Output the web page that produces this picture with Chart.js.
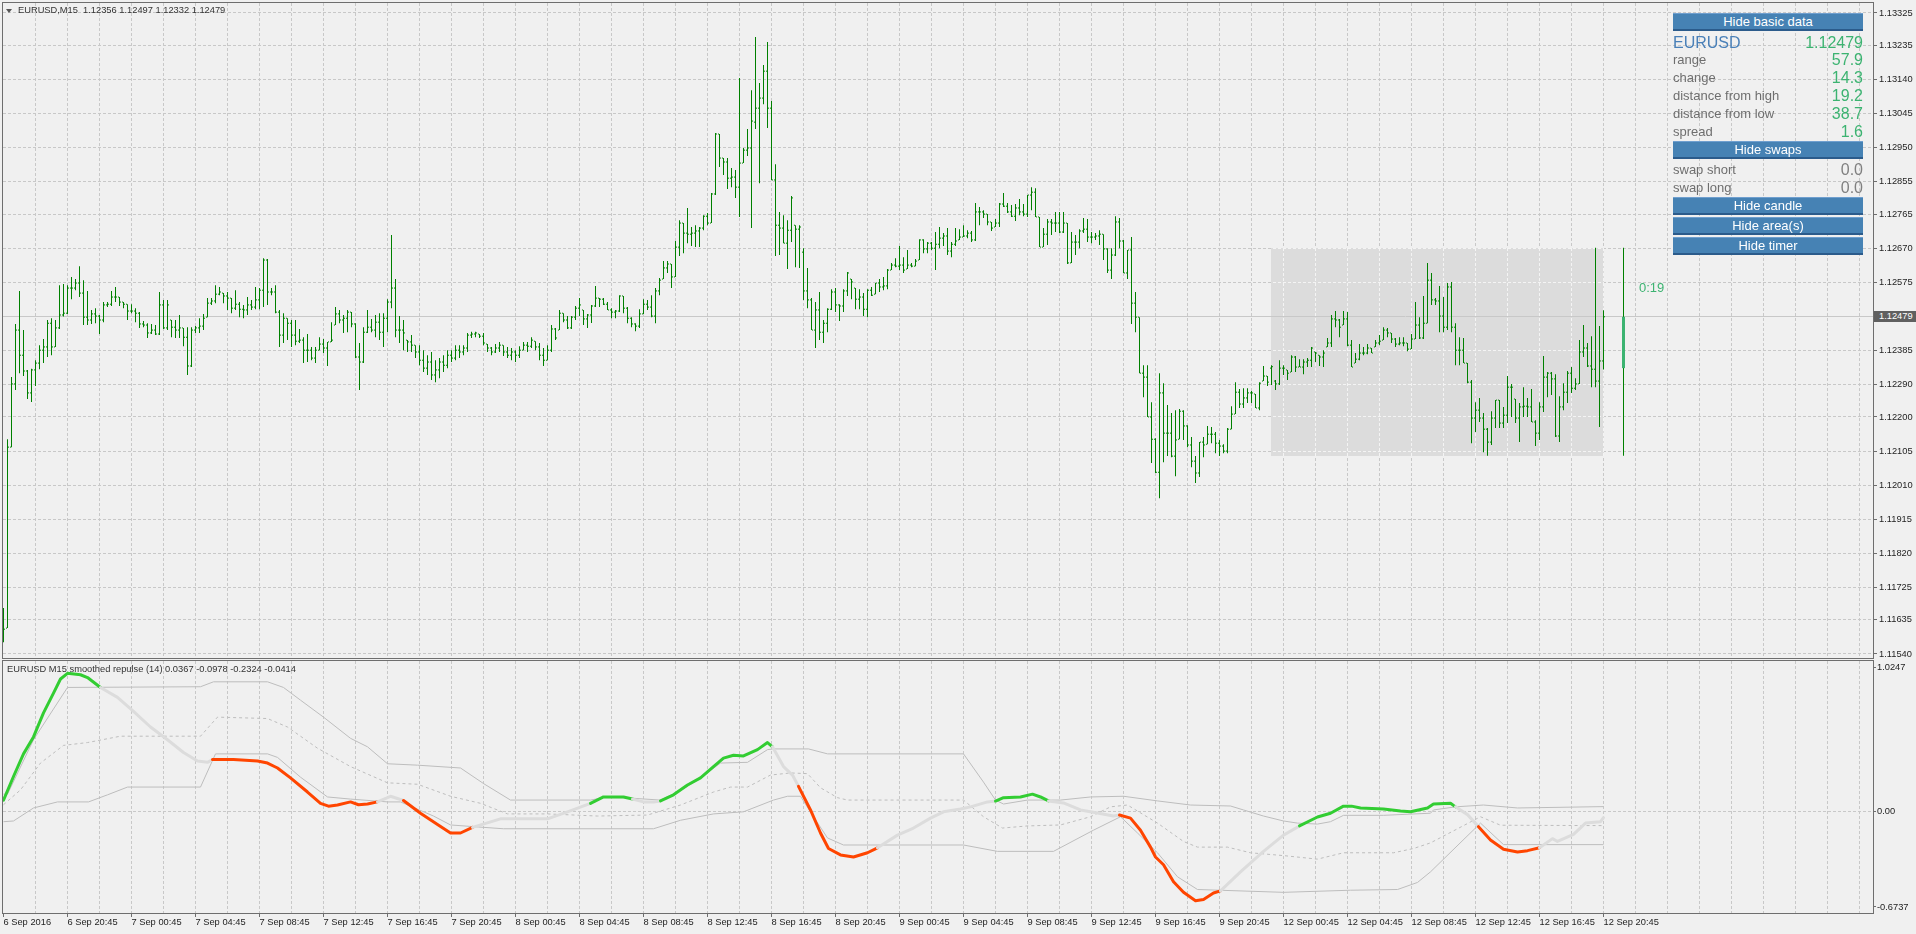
<!DOCTYPE html>
<html>
<head>
<meta charset="utf-8">
<title>EURUSD,M15</title>
<script src="https://cdn.jsdelivr.net/npm/chart.js@4.4.1/dist/chart.umd.min.js"></script>
<style>
  body { margin: 0; width: 1916px; height: 934px; background: #f0f0f0; position: relative; overflow: hidden; font-family: "Liberation Sans", Arial, sans-serif; }
  canvas { position: absolute; left: 0; }
  #priceChart { top: 0; }
  #repulseChart { top: 660px; }
  .txt { position: absolute; white-space: nowrap; }
  .small { font-size: 9.3px; line-height: 9.3px; color: #333; }
  .tri { position: absolute; left: 6px; top: 9px; width: 0; height: 0; border-left: 3.5px solid transparent; border-right: 3.5px solid transparent; border-top: 4px solid #555; }
  .btn { position: absolute; left: 1673px; width: 190px; height: 18px; box-sizing: border-box; background: #4682b4; border-top: 1px solid #6f9fcf; border-bottom: 2px solid #2b5b8b; color: #fff; font-size: 13px; line-height: 15px; text-align: center; }
  .lab { left: 1673px; font-size: 13px; line-height: 13px; color: #6e6e6e; }
  .val { right: 53px; font-size: 16px; line-height: 16px; color: #3cb371; text-align: right; }
  .pricebox { position: absolute; left: 1874px; top: 311px; width: 42px; height: 11px; background: #606060; color: #fff; font-size: 9.3px; line-height: 11px; padding-left: 5px; box-sizing: border-box; }
</style>
</head>
<body>
<canvas id="priceChart" width="1916" height="660"></canvas>
<canvas id="repulseChart" width="1916" height="274"></canvas>

<div class="tri"></div>
<div class="txt small" style="left:18px;top:6px">EURUSD,M15&nbsp; 1.12356 1.12497 1.12332 1.12479</div>
<div class="txt small" style="left:7px;top:665px">EURUSD M15 smoothed repulse (14) 0.0367 -0.0978 -0.2324 -0.0414</div>

<div class="btn" style="top:13px">Hide basic data</div>
<div class="txt" style="left:1673px;top:35px;font-size:16px;line-height:16px;color:#4a80b8">EURUSD</div>
<div class="txt val" style="top:35px">1.12479</div>
<div class="txt lab" style="top:53px">range</div>
<div class="txt val" style="top:52px">57.9</div>
<div class="txt lab" style="top:71px">change</div>
<div class="txt val" style="top:70px">14.3</div>
<div class="txt lab" style="top:89px">distance from high</div>
<div class="txt val" style="top:88px">19.2</div>
<div class="txt lab" style="top:107px">distance from low</div>
<div class="txt val" style="top:106px">38.7</div>
<div class="txt lab" style="top:125px">spread</div>
<div class="txt val" style="top:124px">1.6</div>
<div class="btn" style="top:141px">Hide swaps</div>
<div class="txt lab" style="top:163px">swap short</div>
<div class="txt val" style="top:162px;color:#808080">0.0</div>
<div class="txt lab" style="top:181px">swap long</div>
<div class="txt val" style="top:180px;color:#808080">0.0</div>
<div class="btn" style="top:197px">Hide candle</div>
<div class="btn" style="top:217px">Hide area(s)</div>
<div class="btn" style="top:237px">Hide timer</div>
<div class="txt" style="left:1639px;top:281px;font-size:13px;line-height:13px;color:#3cb371">0:19</div>
<div class="pricebox">1.12479</div>

<script>
// M15 bars, prices in points above 1.10000 (2479 -> 1.12479)
const barOpen = [
  1579,1612,2116,2292,2442,2372,2328,2267,2331,2350,2386,2395,2461,2395,2448,2484,
  2489,2559,2559,2573,2545,2478,2470,2487,2481,2470,2512,2514,2534,2534,2520,2514,
  2495,2495,2489,2459,2456,2434,2442,2431,2512,2448,2470,2450,2442,2448,2422,2342,
  2442,2448,2453,2478,2517,2523,2542,2545,2537,2531,2503,2514,2500,2498,2512,2506,
  2526,2553,2637,2548,2548,2492,2428,2475,2461,2428,2411,2414,2386,2386,2364,2386,
  2403,2392,2409,2456,2487,2470,2475,2492,2459,2367,2353,2436,2450,2442,2464,2436,
  2475,2520,2559,2442,2442,2414,2409,2400,2381,2358,2336,2353,2317,2331,2353,2344,
  2372,2364,2386,2381,2392,2428,2431,2431,2425,2403,2392,2381,2392,2400,2381,2372,
  2381,2372,2386,2400,2397,2411,2395,2372,2358,2386,2445,2442,2489,2470,2448,2478,
  2503,2498,2473,2484,2509,2531,2528,2514,2498,2492,2495,2537,2503,2475,2459,2453,
  2487,2514,2506,2481,2551,2584,2615,2626,2590,2673,2740,2712,2709,2712,2718,2726,
  2759,2740,2821,2988,2921,2910,2865,2868,2840,2907,2943,2949,3021,3060,3088,3163,
  3060,2860,2734,2726,2684,2720,2734,2723,2659,2551,2526,2442,2498,2436,2461,2500,
  2548,2512,2509,2551,2584,2559,2528,2534,2500,2553,2542,2573,2562,2565,2609,2623,
  2620,2623,2612,2623,2620,2637,2693,2668,2684,2670,2681,2698,2704,2662,2681,2693,
  2701,2704,2712,2693,2771,2771,2765,2743,2729,2740,2793,2787,2771,2759,2782,2771,
  2765,2818,2826,2757,2673,2709,2743,2740,2740,2715,2740,2629,2687,2687,2718,2723,
  2701,2701,2704,2709,2668,2609,2651,2743,2690,2601,2665,2517,2478,2322,2311,2200,
  2138,2046,2267,2155,2155,2091,2138,2216,2175,2122,2077,2044,2130,2124,2152,2152,
  2127,2119,2105,2166,2208,2269,2236,2253,2267,2264,2225,2300,2314,2336,2300,2292,
  2336,2331,2325,2367,2339,2339,2353,2358,2381,2372,2367,2395,2406,2473,2470,2456,
  2473,2400,2350,2361,2378,2378,2392,2395,2406,2414,2442,2434,2417,2403,2406,2406,
  2389,2417,2456,2420,2461,2581,2526,2523,2481,2450,2562,2450,2386,2386,2350,2297,
  2197,2219,2197,2166,2130,2197,2247,2183,2205,2283,2250,2197,2228,2230,2228,2186,
  2155,2228,2311,2322,2306,2147,2228,2269,2322,2280,2292,2381,2392,2342,2333,2300,
  2356
];
const barHigh = [
  1668,2138,2311,2459,2551,2442,2331,2334,2358,2400,2417,2470,2475,2470,2567,2570,
  2567,2590,2584,2620,2581,2551,2498,2503,2484,2520,2520,2551,2562,2534,2520,2514,
  2514,2503,2492,2467,2461,2459,2456,2548,2526,2526,2470,2470,2484,2448,2450,2450,
  2453,2475,2487,2531,2531,2567,2562,2545,2548,2531,2553,2520,2512,2534,2526,2562,
  2559,2642,2640,2559,2567,2498,2489,2475,2470,2470,2445,2422,2431,2395,2395,2422,
  2417,2409,2464,2506,2498,2484,2498,2492,2461,2406,2450,2498,2473,2484,2489,2489,
  2528,2707,2584,2481,2470,2414,2428,2400,2400,2386,2372,2381,2358,2364,2372,2386,
  2386,2400,2400,2400,2434,2437,2437,2431,2434,2403,2395,2403,2409,2400,2395,2392,
  2386,2397,2409,2409,2422,2411,2406,2392,2400,2456,2448,2498,2489,2481,2481,2509,
  2531,2498,2487,2512,2565,2531,2531,2520,2503,2498,2539,2537,2506,2478,2461,2500,
  2528,2526,2539,2559,2587,2634,2634,2626,2690,2748,2740,2782,2729,2734,2729,2762,
  2768,2824,2991,2988,2921,2921,2893,2888,3144,2949,3002,3110,3258,3130,3180,3244,
  3080,2904,2771,2762,2748,2815,2734,2734,2670,2615,2531,2520,2548,2470,2503,2556,
  2559,2514,2556,2604,2584,2559,2556,2545,2556,2562,2573,2584,2590,2612,2629,2642,
  2676,2645,2665,2629,2640,2695,2695,2687,2687,2715,2729,2712,2726,2687,2726,2723,
  2734,2720,2718,2796,2785,2776,2765,2743,2751,2796,2824,2796,2790,2793,2807,2793,
  2818,2840,2837,2757,2726,2751,2751,2771,2771,2771,2740,2715,2707,2723,2754,2751,
  2715,2712,2720,2709,2670,2670,2759,2754,2693,2665,2701,2548,2478,2344,2344,2241,
  2141,2322,2294,2233,2211,2219,2222,2219,2177,2144,2091,2130,2144,2175,2172,2158,
  2136,2124,2169,2230,2297,2278,2280,2280,2272,2264,2297,2342,2314,2344,2303,2358,
  2344,2331,2372,2370,2361,2361,2364,2395,2381,2372,2386,2420,2484,2495,2473,2495,
  2492,2414,2378,2403,2395,2403,2392,2414,2428,2450,2448,2434,2420,2422,2422,2406,
  2431,2520,2478,2537,2629,2601,2531,2565,2534,2573,2576,2461,2422,2420,2350,2303,
  2241,2253,2211,2169,2216,2247,2247,2228,2314,2292,2250,2239,2283,2253,2278,2191,
  2241,2370,2325,2325,2319,2258,2294,2328,2339,2308,2414,2456,2406,2425,2671,2453,
  2497
];
const barLow = [
  1573,1612,2116,2275,2322,2314,2250,2242,2286,2333,2350,2367,2372,2395,2445,2480,
  2487,2528,2553,2534,2456,2456,2459,2461,2431,2464,2506,2509,2520,2509,2503,2470,
  2489,2464,2448,2450,2420,2431,2428,2428,2445,2442,2422,2420,2420,2397,2317,2339,
  2434,2434,2442,2478,2512,2517,2539,2517,2498,2489,2498,2478,2475,2484,2498,2500,
  2500,2506,2512,2539,2489,2395,2406,2414,2395,2400,2406,2350,2353,2358,2350,2386,
  2378,2342,2409,2456,2461,2434,2436,2450,2364,2275,2350,2434,2436,2422,2414,2395,
  2436,2503,2422,2406,2386,2381,2381,2364,2344,2325,2317,2303,2297,2308,2325,2336,
  2353,2358,2364,2372,2381,2420,2422,2420,2400,2381,2372,2378,2381,2370,2364,2358,
  2353,2364,2386,2381,2392,2386,2358,2342,2358,2381,2414,2442,2464,2445,2445,2470,
  2481,2456,2448,2462,2506,2506,2512,2498,2475,2475,2492,2489,2461,2450,2439,2448,
  2487,2498,2478,2461,2539,2584,2601,2559,2590,2648,2656,2684,2676,2673,2673,2720,
  2734,2740,2818,2896,2874,2835,2840,2810,2757,2907,2927,2726,3002,2851,3071,3005,
  2860,2648,2651,2684,2612,2687,2617,2615,2526,2503,2442,2392,2414,2406,2436,2498,
  2492,2467,2492,2537,2528,2500,2500,2481,2478,2537,2542,2548,2553,2556,2609,2617,
  2609,2601,2612,2617,2620,2637,2656,2656,2665,2609,2670,2676,2651,2645,2676,2693,
  2701,2698,2687,2690,2734,2754,2734,2718,2729,2729,2785,2768,2757,2746,2762,2759,
  2757,2776,2757,2673,2673,2679,2707,2715,2712,2712,2626,2629,2651,2670,2712,2687,
  2684,2693,2679,2637,2601,2584,2648,2670,2601,2584,2459,2436,2322,2255,2200,2072,
  2044,1974,2074,2091,2088,2035,2138,2136,2116,2060,2016,2033,2088,2124,2127,2099,
  2091,2099,2099,2166,2208,2225,2225,2239,2239,2225,2219,2300,2286,2289,2275,2289,
  2317,2303,2325,2325,2339,2319,2339,2339,2353,2342,2339,2395,2395,2450,2422,2456,
  2397,2339,2350,2358,2372,2375,2378,2395,2400,2414,2422,2406,2395,2400,2397,2383,
  2389,2417,2417,2417,2461,2512,2512,2436,2436,2442,2436,2344,2344,2350,2294,2127,
  2158,2186,2102,2092,2122,2169,2169,2169,2183,2200,2183,2130,2200,2200,2186,2119,
  2136,2214,2255,2261,2144,2130,2219,2239,2267,2275,2292,2367,2339,2283,2283,2172,
  2332
];
const barClose = [
  1609,2116,2292,2442,2372,2328,2267,2331,2350,2386,2395,2461,2395,2448,2484,2489,
  2559,2559,2573,2545,2478,2470,2487,2481,2470,2512,2514,2534,2534,2520,2514,2495,
  2495,2489,2459,2456,2434,2442,2431,2512,2448,2512,2450,2442,2448,2422,2342,2442,
  2448,2453,2475,2517,2523,2542,2548,2537,2531,2503,2514,2500,2498,2512,2506,2526,
  2553,2637,2548,2548,2492,2428,2475,2461,2428,2411,2414,2386,2386,2364,2386,2403,
  2392,2409,2414,2487,2470,2475,2492,2459,2367,2353,2436,2450,2442,2464,2436,2475,
  2520,2559,2442,2442,2434,2409,2400,2381,2358,2336,2353,2317,2331,2353,2344,2372,
  2364,2386,2381,2392,2428,2431,2434,2425,2406,2392,2381,2392,2400,2381,2372,2381,
  2372,2386,2400,2397,2414,2395,2372,2358,2386,2445,2420,2489,2470,2448,2478,2503,
  2512,2473,2484,2509,2531,2528,2514,2498,2492,2495,2537,2503,2475,2459,2453,2487,
  2514,2506,2481,2551,2581,2615,2626,2590,2673,2740,2712,2709,2712,2718,2726,2759,
  2740,2821,2988,2921,2910,2865,2868,2840,2907,2943,2949,3024,3060,3088,3163,3060,
  2860,2734,2726,2684,2720,2810,2723,2729,2551,2526,2442,2498,2436,2461,2500,2548,
  2512,2509,2551,2601,2576,2528,2534,2500,2553,2539,2573,2562,2565,2609,2623,2620,
  2623,2609,2623,2620,2634,2693,2668,2684,2670,2681,2698,2704,2662,2681,2690,2701,
  2704,2712,2693,2771,2771,2765,2743,2726,2740,2793,2787,2771,2759,2782,2771,2765,
  2818,2826,2757,2673,2709,2743,2740,2740,2715,2740,2629,2687,2687,2718,2723,2701,
  2701,2704,2709,2668,2609,2651,2743,2690,2601,2665,2517,2478,2322,2311,2200,2138,
  2046,2267,2155,2155,2091,2136,2216,2175,2122,2077,2044,2130,2122,2152,2152,2127,
  2119,2105,2166,2208,2269,2236,2253,2267,2267,2225,2294,2314,2297,2340,2292,2336,
  2336,2322,2367,2339,2339,2353,2358,2392,2378,2367,2378,2406,2473,2470,2450,2473,
  2400,2339,2361,2378,2378,2392,2378,2406,2411,2442,2434,2417,2403,2406,2406,2389,
  2417,2456,2420,2461,2581,2526,2523,2481,2450,2562,2450,2386,2386,2350,2297,2197,
  2219,2197,2166,2130,2197,2247,2183,2205,2283,2283,2197,2228,2230,2228,2186,2155,
  2228,2311,2322,2306,2147,2228,2269,2322,2280,2292,2381,2392,2342,2333,2300,2356,
  2479
];

// today's candle and range area (12 Sep)
const dayBar = 405, areaFrom = 317, areaTo = 400;
const dayOpen = 2336, dayHigh = 2671, dayLow = 2092, dayClose = 2479;

// price axis
const priceTicks = [1.11540,1.11635,1.11725,1.11820,1.11915,1.12010,1.12105,1.12200,1.12290,1.12385,
                    1.12480,1.12575,1.12670,1.12765,1.12855,1.12950,1.13045,1.13140,1.13235,1.13325];
const priceTickLabels = ['1.11540','1.11635','1.11725','1.11820','1.11915','1.12010','1.12105','1.12200','1.12290','1.12385',
                         '','1.12575','1.12670','1.12765','1.12855','1.12950','1.13045','1.13140','1.13235','1.13325'];

// time axis, one label every 16 bars
const timeLabels = ['6 Sep 2016','6 Sep 20:45','7 Sep 00:45','7 Sep 04:45','7 Sep 08:45','7 Sep 12:45','7 Sep 16:45','7 Sep 20:45',
  '8 Sep 00:45','8 Sep 04:45','8 Sep 08:45','8 Sep 12:45','8 Sep 16:45','8 Sep 20:45','9 Sep 00:45','9 Sep 04:45',
  '9 Sep 08:45','9 Sep 12:45','9 Sep 16:45','9 Sep 20:45','12 Sep 00:45','12 Sep 04:45','12 Sep 08:45','12 Sep 12:45',
  '12 Sep 16:45','12 Sep 20:45'];

// smoothed repulse: [bar, value]
const repulse = [[0,0.083],[2.5,0.25],[5,0.41],[7.5,0.53],[10,0.70],[12.5,0.84],[14.25,0.94],[16,0.98],[19.25,0.97],[21,0.95],
  [24.25,0.88],[28.5,0.81],[32.5,0.71],[36.75,0.60],[41,0.51],[45,0.42],[48.5,0.36],[51,0.35],
  [52.25,0.37],[57.5,0.37],[63.5,0.36],[66,0.345],[68.5,0.31],[71.75,0.24],[76,0.14],[79.25,0.06],[81.25,0.04],[83.5,0.048],[86.75,0.07],[88.75,0.05],[91,0.055],
  [93.5,0.07],[96.75,0.11],
  [100,0.08],[104.25,-0.01],[108.5,-0.09],[111.75,-0.15],[114.25,-0.15],
  [117.25,-0.11],[124.25,-0.05],[136,-0.05],[141,0.0],
  [146.75,0.06],[150,0.105],[155,0.105],
  [157.25,0.09],[160,0.07],[162.5,0.07],
  [164.25,0.077],[167.5,0.12],[171,0.19],[174.25,0.24],[177.5,0.32],[180,0.38],[182.5,0.40],[185,0.395],[188.5,0.44],[191,0.49],
  [192.25,0.46],[195,0.32],[197.25,0.26],
  [198.75,0.18],[201.75,0.013],[204.25,-0.15],[206.25,-0.26],[209.25,-0.305],[212.5,-0.32],[216,-0.29],
  [218.5,-0.255],[223.5,-0.165],[227.5,-0.115],[231.75,-0.045],[235,0.0],[239.25,0.02],[241.75,0.035],[246,0.07],
  [248,0.076],[250,0.10],[254.25,0.105],[257.25,0.125],[259.25,0.105],
  [261.25,0.077],[265,0.063],[269.25,0.013],[273.5,-0.008],[277.5,-0.03],
  [279,-0.023],[281.75,-0.045],[284.25,-0.13],[286.75,-0.25],[288,-0.32],[290,-0.375],[292.5,-0.495],[295,-0.57],[298,-0.63],[300,-0.62],[302.5,-0.575],
  [304.25,-0.56],[309.25,-0.425],[315,-0.28],[320,-0.165],
  [324,-0.10],[328.5,-0.037],[331.75,-0.01],[335,0.04],[337,0.04],[339.25,0.027],[345,0.02],[349.25,0.006],[351.75,0.0],[356,0.027],[357.5,0.055],[361.75,0.06],
  [363,0.035],[366,-0.02],
  [368.75,-0.105],[371.75,-0.2],[375,-0.265],[378.5,-0.285],[381,-0.275],
  [384,-0.255],[387.25,-0.19],[388.5,-0.21],[392.5,-0.16],[395.5,-0.08],[399.25,-0.07],[400,-0.041]];
// colour of each segment: g = up, r = down, n = neutral
const repState = 'gggggggggg' + 'nnnnnnnn' + 'rrrrrrrrrrrrr' + 'nn' + 'rrrrr' + 'nnnn' + 'ggg' + 'nnn' +
  'gggggggggg' + 'nnn' + 'rrrrrrr' + 'nnnnnnnn' + 'ggggg' + 'nnnnn' + 'rrrrrrrrrrr' + 'nnnn' +
  'gggggggggggg' + 'nn' + 'rrrrr' + 'nnnnnnn';

const upperBand = [[0,0.125],[1,0.125],[7.5,0.51],[16,0.88],[49.25,0.885],[52.5,0.92],[66,0.92],[70,0.88],[74.25,0.79],[80,0.67],
  [86.75,0.52],[91,0.46],[96,0.34],[103.5,0.33],[114.25,0.31],[120,0.2],[126.75,0.083],[146.75,0.083],[150,0.1],[155,0.1],
  [164.25,0.083],[169.25,0.15],[173.5,0.225],[179.25,0.345],[186,0.35],[191,0.44],[192.5,0.445],[201.25,0.445],[206,0.41],[240,0.41],
  [245,0.21],[248,0.083],[250,0.055],[256,0.083],[264.25,0.083],[271.75,0.105],[280,0.11],[288.5,0.077],[296.75,0.048],[306.75,0.041],
  [310,0.013],[315,-0.03],[320,-0.065],[323.5,-0.08],[328.5,-0.087],[331.75,-0.07],[335,-0.025],[345,-0.025],[356.75,-0.01],[357.5,0.013],
  [363,0.035],[370,0.048],[378.5,0.027],[400,0.0367]];
const midBand = [[0,0.05],[4.25,0.155],[9.25,0.345],[15,0.47],[21,0.49],[29.25,0.535],[49.25,0.535],[53.5,0.67],[66,0.66],[71,0.6],
  [78.5,0.45],[86.75,0.32],[96,0.205],[103.5,0.195],[111.75,0.11],[119.25,0.06],[126,-0.015],[136,-0.015],[148.5,-0.03],[161,-0.023],
  [169.25,0.048],[177.5,0.14],[181.75,0.175],[186,0.175],[191.75,0.26],[196.75,0.275],[201,0.27],[204.25,0.17],[208.5,0.1],[211,0.083],
  [240,0.083],[245,-0.035],[249.75,-0.115],[256,-0.1],[264.25,-0.093],[271.75,-0.035],[276.75,0.035],[281,0.048],[288.5,-0.08],[295,-0.21],
  [298.5,-0.25],[306,-0.25],[311.75,-0.29],[320,-0.31],[328.5,-0.335],[335,-0.29],[347.5,-0.29],[352.5,-0.26],[356.75,-0.22],[369.25,-0.035],
  [374.25,-0.095],[400,-0.0978]];
const lowerBand = [[0,-0.07],[2.5,-0.065],[7.5,0.027],[13.5,0.07],[21.25,0.07],[26,0.12],[31,0.175],[49.25,0.175],[53,0.41],[66,0.41],
  [68.5,0.385],[74.25,0.245],[81,0.105],[86.75,0.09],[96,0.07],[99.25,0.07],[107.5,-0.03],[111.75,-0.093],[117.5,-0.105],[125,-0.12],
  [162.5,-0.12],[169.25,-0.06],[177.5,-0.015],[185,0],[192.5,0.083],[196,0.11],[199.25,0.11],[202.5,-0.035],[206,-0.185],[210,-0.235],
  [240,-0.235],[248.5,-0.28],[262.5,-0.28],[272.5,-0.13],[279.25,-0.035],[283.5,-0.15],[288.5,-0.29],[293.5,-0.46],[298.5,-0.55],[320,-0.57],
  [336.75,-0.555],[348.5,-0.55],[353.5,-0.5],[356.75,-0.425],[369.25,-0.08],[375,-0.2324],[400,-0.2324]];
const repTicks = [-0.6737, 0, 1.0247];
const repTickLabels = ['-0.6737', '0.00', '1.0247'];

Chart.defaults.font.family = '"Liberation Sans", Arial, sans-serif';
Chart.defaults.font.size = 9.3;
Chart.defaults.color = '#1e1e1e';

const barGreen = '#008000';
const gridColor = '#c8c8c8';
const frameColor = '#6e6e6e';
const stateColor = {g: '#32cd32', r: '#ff4500', n: '#dcdcdc'};

const pr = v => +(1.1 + v / 100000).toFixed(5);
const pts = arr => arr.map(p => ({x: p[0], y: p[1]}));
const xGrid = [];
for (let b = 0; b <= 464; b += 8) xGrid.push(b);

const gridByTick = ctx => (ctx.tick && ctx.tick.value === 0 ? 'rgba(0,0,0,0)' : gridColor);

const frame = {
  id: 'frame',
  afterDraw(chart) {
    const {ctx, chartArea: a} = chart;
    ctx.save();
    ctx.strokeStyle = frameColor;
    ctx.lineWidth = 1;
    ctx.strokeRect(a.left - 0.5, a.top - 0.5, a.right - a.left + 1, a.bottom - a.top + 1);
    ctx.restore();
  }
};

const dayArea = {
  id: 'dayArea',
  beforeDatasetsDraw(chart) {
    const {ctx, chartArea: a, scales: {x, y}} = chart;
    const x1 = Math.floor(x.getPixelForValue(areaFrom));
    const x2 = Math.floor(x.getPixelForValue(areaTo)) + 1;
    const y1 = Math.round(y.getPixelForValue(pr(dayHigh)));
    const y2 = Math.round(y.getPixelForValue(pr(dayLow)));
    ctx.save();
    ctx.fillStyle = '#dcdcdc';
    ctx.fillRect(x1, y1, x2 - x1, y2 - y1);
    ctx.beginPath();
    ctx.rect(x1, y1, x2 - x1, y2 - y1);
    ctx.clip();
    ctx.strokeStyle = '#f4f4f4';
    ctx.lineWidth = 1;
    ctx.setLineDash([3, 2]);
    x.ticks.forEach(t => {
      const px = Math.round(x.getPixelForValue(t.value) - 0.5) + 0.5;
      ctx.beginPath(); ctx.moveTo(px, a.top); ctx.lineTo(px, a.bottom); ctx.stroke();
    });
    y.ticks.forEach(t => {
      const py = Math.round(y.getPixelForValue(t.value) - 0.5) + 0.5;
      ctx.beginPath(); ctx.moveTo(a.left, py); ctx.lineTo(a.right, py); ctx.stroke();
    });
    ctx.restore();
    // last price line
    const py = Math.round(y.getPixelForValue(pr(barClose[barClose.length - 1])) - 0.5) + 0.5;
    ctx.save();
    ctx.strokeStyle = '#c8c8c8';
    ctx.lineWidth = 1;
    ctx.beginPath(); ctx.moveTo(a.left, py); ctx.lineTo(a.right, py); ctx.stroke();
    ctx.restore();
  }
};

new Chart(document.getElementById('priceChart'), {
  type: 'scatter',
  data: {
    datasets: [
      {type: 'bar', data: barHigh.map((h, i) => ({x: i, y: [pr(barLow[i]), pr(h)]})),
       backgroundColor: barGreen, barThickness: 1, grouped: false, borderWidth: 0, inflateAmount: 0, order: 3},
      {type: 'scatter', data: barOpen.map((v, i) => ({x: i - 0.25, y: pr(v)})),
       pointStyle: 'line', pointRadius: 0.5, borderColor: barGreen, borderWidth: 1, order: 3},
      {type: 'scatter', data: barClose.map((v, i) => ({x: i + 0.25, y: pr(v)})),
       pointStyle: 'line', pointRadius: 0.5, borderColor: barGreen, borderWidth: 1, order: 3},
      {type: 'bar', data: [{x: dayBar, y: [pr(dayLow), pr(dayHigh)]}],
       backgroundColor: barGreen, barThickness: 1, grouped: false, borderWidth: 0, inflateAmount: 0, order: 2},
      {type: 'bar', data: [{x: dayBar, y: [pr(dayOpen), pr(dayClose)]}],
       backgroundColor: '#3cb371', barThickness: 3, grouped: false, borderWidth: 0, inflateAmount: 0, order: 1}
    ]
  },
  options: {
    responsive: false,
    animation: false,
    events: [],
    layout: {autoPadding: false, padding: {left: 3, top: 3, right: 0, bottom: 2}},
    plugins: {legend: {display: false}, tooltip: {enabled: false}},
    scales: {
      x: {
        type: 'linear', min: -0.125, max: 467.375, offset: false, bounds: 'data',
        afterBuildTicks: s => { s.ticks = xGrid.map(v => ({value: v})); },
        ticks: {display: false},
        grid: {color: gridByTick, drawTicks: false, offset: false},
        border: {display: false, dash: [3, 2]},
        afterFit: s => { s.height = 0; s.paddingLeft = 0; s.paddingRight = 0; }
      },
      y: {
        type: 'linear', position: 'right', min: 1.115288, max: 1.133528, bounds: 'data',
        afterBuildTicks: s => { s.ticks = priceTicks.map(v => ({value: v})); },
        ticks: {callback: (v, i) => priceTickLabels[i], autoSkip: false, padding: 2},
        grid: {color: gridColor, tickColor: frameColor, tickLength: 4},
        border: {display: false, dash: [3, 2]},
        afterFit: s => { s.width = 43; s.paddingTop = 0; s.paddingBottom = 0; }
      }
    }
  },
  plugins: [dayArea, frame]
});

new Chart(document.getElementById('repulseChart'), {
  type: 'line',
  data: {
    datasets: [
      {data: pts(repulse), borderWidth: 3, borderColor: stateColor.n, pointRadius: 0,
       borderJoinStyle: 'round', borderCapStyle: 'round',
       segment: {borderColor: c => stateColor[repState[c.p0DataIndex]]}, order: 0},
      {data: pts(upperBand), borderWidth: 1, borderColor: '#bdbdbd', pointRadius: 0, order: 1},
      {data: pts(midBand), borderWidth: 1, borderColor: '#bdbdbd', borderDash: [3, 3], pointRadius: 0, order: 1},
      {data: pts(lowerBand), borderWidth: 1, borderColor: '#bdbdbd', pointRadius: 0, order: 1}
    ]
  },
  options: {
    responsive: false,
    animation: false,
    events: [],
    layout: {autoPadding: false, padding: {left: 3, top: 1, right: 0, bottom: 0}},
    plugins: {legend: {display: false}, tooltip: {enabled: false}},
    scales: {
      x: {
        type: 'linear', min: -0.125, max: 467.375, offset: false, bounds: 'data',
        afterBuildTicks: s => { s.ticks = xGrid.map(v => ({value: v})); },
        ticks: {
          callback: v => (v % 16 === 0 && timeLabels[v / 16]) ? timeLabels[v / 16] : '',
          autoSkip: false, maxRotation: 0, minRotation: 0, align: 'start', padding: 0
        },
        grid: {
          color: gridByTick, tickLength: 4, offset: false,
          tickColor: ctx => (ctx.tick && ctx.tick.value % 16 === 0 && timeLabels[ctx.tick.value / 16]) ? frameColor : 'rgba(0,0,0,0)'
        },
        border: {display: false, dash: [3, 2]},
        afterFit: s => { s.height = 21; s.paddingLeft = 0; s.paddingRight = 0; }
      },
      y: {
        type: 'linear', position: 'right', min: -0.7162, max: 1.0672, bounds: 'data',
        afterBuildTicks: s => { s.ticks = repTicks.map(v => ({value: v})); },
        ticks: {callback: (v, i) => repTickLabels[i], autoSkip: false, padding: 1},
        grid: {color: ctx => (ctx.tick && ctx.tick.value === 0 ? gridColor : 'rgba(0,0,0,0)'), tickColor: frameColor, tickLength: 3},
        border: {display: false, dash: [3, 2]},
        afterFit: s => { s.width = 43; s.paddingTop = 0; s.paddingBottom = 0; }
      }
    }
  },
  plugins: [frame]
});
</script>
</body>
</html>
